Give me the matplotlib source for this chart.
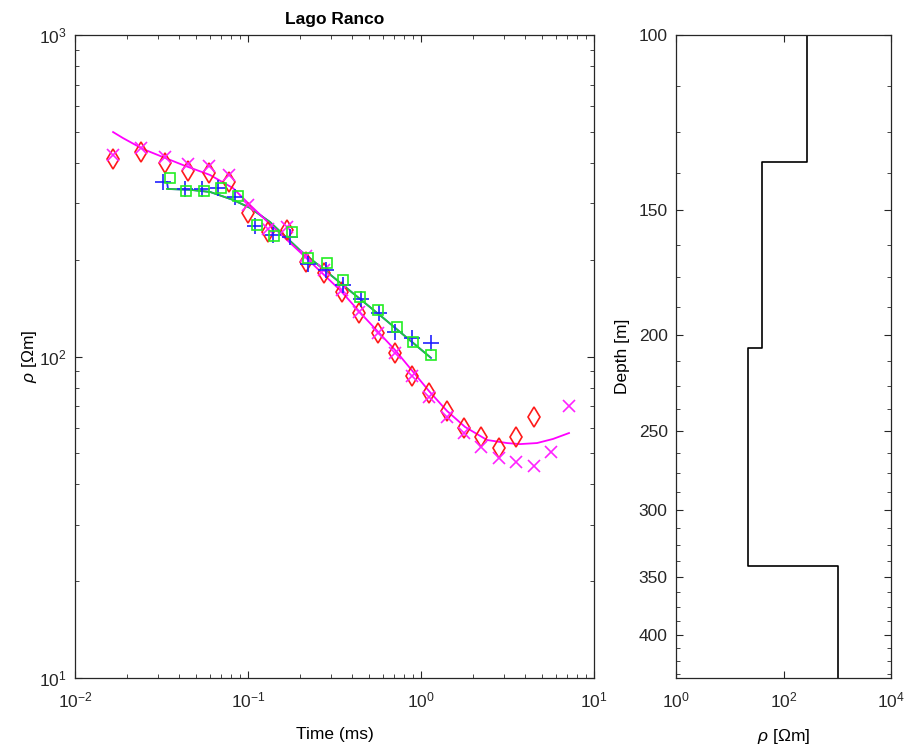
import numpy as np
import matplotlib
matplotlib.use("Agg")
import matplotlib.pyplot as plt
from matplotlib.ticker import LogLocator, FixedLocator, NullFormatter, NullLocator

plt.rcParams['font.family'] = ['Liberation Sans', 'DejaVu Sans']
plt.rcParams['mathtext.fontset'] = 'custom'
plt.rcParams['mathtext.rm'] = 'Liberation Sans'
plt.rcParams['mathtext.it'] = 'Liberation Sans:italic'
plt.rcParams['mathtext.bf'] = 'Liberation Sans:bold'

# ---------------- data (left panel) ----------------
t_red = [0.0166, 0.0241, 0.0331, 0.0450, 0.0595, 0.0777, 0.100, 0.1305, 0.168, 0.2164,
         0.275, 0.3495, 0.4381, 0.564, 0.7075, 0.8871, 1.112, 1.414, 1.773, 2.223,
         2.824, 3.541, 4.500]
rho_red = [412, 433, 400, 378, 372, 349, 279, 244, 247, 197,
           182, 159, 136.5, 118.3, 102.5, 87.0, 77.0, 67.7, 59.9, 56.2,
           51.9, 56.2, 64.8]

t_mag = [0.0166, 0.0241, 0.0331, 0.0450, 0.0595, 0.0777, 0.100, 0.1305, 0.168, 0.2164,
         0.275, 0.3495, 0.4381, 0.564, 0.7075, 0.8871, 1.112, 1.414, 1.773, 2.223,
         2.824, 3.541, 4.500, 5.641, 7.17]
rho_mag = [423, 445, 417, 397, 391, 367, 296, 249, 253, 205,
           186, 161, 137.5, 118.3, 102.5, 87.0, 74.8, 64.8, 57.8, 52.3,
           48.3, 47.0, 45.6, 50.5, 70.2]

t_blue = [0.0323, 0.0432, 0.0542, 0.0671, 0.0841, 0.1098, 0.1395, 0.1749, 0.2223, 0.2823,
          0.354, 0.4499, 0.5716, 0.7075, 0.8871, 1.142]
rho_blue = [349, 332, 332, 334, 313, 255, 239, 235, 194, 186,
            167, 151, 136.5, 119.2, 114.1, 110.2]

t_green = [0.0354, 0.0438, 0.0557, 0.0698, 0.0875, 0.1128, 0.1413, 0.1796, 0.2223, 0.2861,
           0.354, 0.444, 0.564, 0.7266, 0.8991, 1.142]
rho_green = [359, 327, 327, 334, 316, 256, 237, 244, 203, 195,
             173, 153, 140, 123.5, 111, 101.1]

# fitted curves
t_fit_mag = [0.0166, 0.01894, 0.0247, 0.0323, 0.0421, 0.0603, 0.0819, 0.1027, 0.134, 0.208,
             0.3402, 0.462, 0.7075, 1.112, 1.414, 1.796, 2.407, 3.142, 3.735, 4.683,
             5.794, 7.17]
rho_fit_mag = [499, 478, 442, 417, 394, 367, 334, 296, 258, 207,
               161, 134, 104.8, 78.1, 67.7, 60.4, 55.0, 53.8, 53.4, 53.8,
               55.4, 57.8]

t_fit_green = [0.0340, 0.0462, 0.0603, 0.0819, 0.1027, 0.134, 0.1998, 0.2978, 0.6031, 1.127]
rho_fit_green = [332, 330, 325, 307, 290, 262, 214, 180, 132, 99.6]

t_fit_blue = [0.0340, 0.0345, 0.0462, 0.0603, 0.0819, 0.1027, 0.134, 0.1998, 0.2978, 0.6031, 1.142]
rho_fit_blue = [349, 332, 330, 325, 307, 290, 262, 214, 180, 132, 99.0]

# ---------------- data (right panel: layered model) ----------------
layer_rho = [272, 40, 21.6, 1030]
layer_top = [10, 134, 206, 341]
layer_bottom = [134, 206, 341, 1000]

depth_ticks = [100, 150, 200, 250, 300, 350, 400]

# ---------------- figure ----------------
W, H = 907, 751
fig = plt.figure(figsize=(W / 100, H / 100), dpi=100)
axc = '#262626'

ax1 = fig.add_axes([75 / W, 1 - 678 / H, (594 - 75) / W, (678 - 35) / H])
ax2 = fig.add_axes([676 / W, 1 - 678 / H, (891 - 676) / W, (678 - 35) / H])

ax1.plot(t_fit_blue, rho_fit_blue, color='#2b2bff', lw=1.3, zorder=2)
ax1.plot(t_fit_green, rho_fit_green, color='#22c83a', lw=1.3, zorder=3)
ax1.plot(t_fit_mag, rho_fit_mag, color='#ff00ff', lw=1.3, zorder=3)

ax1.plot(t_red, rho_red, linestyle='none', marker='d', ms=10.5, mfc='none',
         mec='#ff1a1a', mew=1.2, zorder=4)
ax1.plot(t_mag, rho_mag, linestyle='none', marker='x', ms=8, mec='#ff22ff',
         mew=1.2, zorder=4)
ax1.plot(t_blue, rho_blue, linestyle='none', marker='+', ms=11, mec='#2020ff',
         mew=1.2, zorder=5)
ax1.plot(t_green, rho_green, linestyle='none', marker='s', ms=7, mfc='none',
         mec='#22ee22', mew=1.2, zorder=5)

ax1.set_xscale('log')
ax1.set_yscale('log')
ax1.set_xlim(1e-2, 1e1)
ax1.set_ylim(1e1, 1e3)
ax1.xaxis.set_major_locator(LogLocator(base=10, numticks=10))
ax1.yaxis.set_major_locator(LogLocator(base=10, numticks=10))
ax1.xaxis.set_minor_locator(LogLocator(base=10, subs=np.arange(2, 10), numticks=20))
ax1.yaxis.set_minor_locator(LogLocator(base=10, subs=np.arange(2, 10), numticks=20))
ax1.xaxis.set_minor_formatter(NullFormatter())
ax1.yaxis.set_minor_formatter(NullFormatter())
ax1.set_title('Lago Ranco', fontsize=12.5, fontweight='bold', pad=8)
ax1.set_xlabel('Time (ms)', fontsize=12.5, labelpad=12)
ax1.set_ylabel(r'$\rho$ [$\Omega$m]', fontsize=12.5, labelpad=0)

# right panel: step model
x_step = np.repeat(layer_rho, 2)
y_step = np.ravel(np.column_stack([layer_top, layer_bottom]))
ax2.plot(x_step, y_step, color='black', lw=1.2)
ax2.set_xscale('log')
ax2.set_yscale('log')
ax2.set_xlim(1, 1e4)
ax2.set_ylim(442, 100)
ax2.xaxis.set_major_locator(FixedLocator([1, 1e2, 1e4]))
ax2.xaxis.set_minor_locator(NullLocator())
ax2.yaxis.set_major_locator(FixedLocator(depth_ticks))
ax2.yaxis.set_major_formatter(plt.FuncFormatter(lambda v, p: f'{v:.0f}'))
ax2.yaxis.set_minor_locator(FixedLocator(np.arange(100, 442, 12.5)))
ax2.yaxis.set_minor_formatter(NullFormatter())
ax2.set_xlabel(r'$\rho$ [$\Omega$m]', fontsize=12.5, labelpad=12)
ax2.set_ylabel('Depth [m]', fontsize=12.5, labelpad=6)

for ax in (ax1, ax2):
    ax.tick_params(which='both', direction='in', top=True, right=True,
                   colors=axc, labelcolor='#262626', labelsize=12.5)
    ax.tick_params(which='major', length=5, width=0.8)
    ax.tick_params(which='minor', length=3, width=0.6)
    ax.tick_params(axis='x', which='both', pad=9)
    ax.tick_params(axis='y', which='both', pad=6)
    for s in ax.spines.values():
        s.set_color(axc)
        s.set_linewidth(0.9)

fig.savefig('out.png', dpi=100)
